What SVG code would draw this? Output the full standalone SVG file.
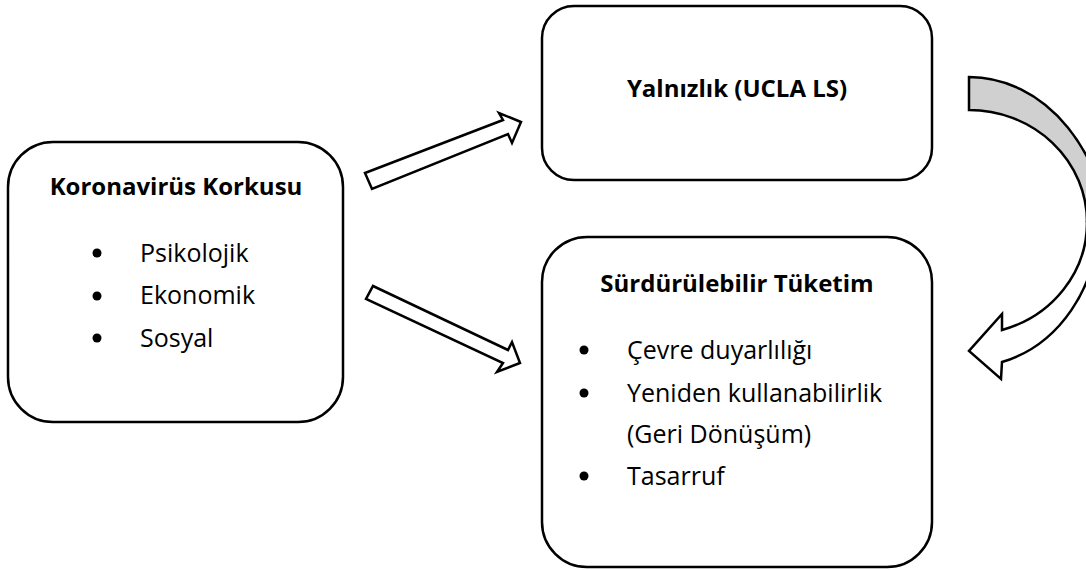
<svg xmlns="http://www.w3.org/2000/svg" width="1086" height="570" viewBox="0 0 1086 570">
<style>
.box{fill:#fff;stroke:#000;stroke-width:2.5}
.arr{fill:#fff;stroke:#000;stroke-width:2.5;stroke-linejoin:miter}
.title{font-family:"Open Sans","Liberation Sans",sans-serif;font-weight:bold;font-size:24px;fill:#000;text-anchor:middle}
.item{font-family:"Open Sans","Liberation Sans",sans-serif;font-size:25px;fill:#000}
.dot{fill:#000}
</style>
<rect width="1086" height="570" fill="#fff"/>
<g id="connectors">
<polygon class="arr" points="365,173 503,120 499,113 521,122 512,143 508,134 372,189"/>
<polygon class="arr" points="373,286 508,350 512,342 520,363 497,372 503,363 366,299"/>
<path d="M969,77 A140,173 0 0 1 1109,250 L1087,222 A118,112 0 0 0 969,110 Z" fill="#d0d0d0" stroke="#000" stroke-width="2.5"/>
<path class="arr" d="M1002,362 A129,145 0 0 0 1098,222 L1087,222 A118,112 0 0 1 1002,330 L1002,314 L969,351 L1001,379 Z"/>
</g>
<g id="node-korku">
<rect class="box" x="8" y="142" width="335" height="280" rx="45" ry="45"/>
<text class="title" x="176" y="195">Koronavirüs Korkusu</text>
<circle class="dot" cx="97" cy="253" r="4.5"/>
<text class="item" x="140" y="262">Psikolojik</text>
<circle class="dot" cx="97" cy="296" r="4.5"/>
<text class="item" x="140" y="304">Ekonomik</text>
<circle class="dot" cx="97" cy="338" r="4.5"/>
<text class="item" x="140" y="347">Sosyal</text>
</g>
<g id="node-yalnizlik">
<rect class="box" x="542" y="6" width="390" height="174" rx="32" ry="32"/>
<text class="title" x="737" y="97">Yalnızlık (UCLA LS)</text>
</g>
<g id="node-tuketim">
<rect class="box" x="542" y="237" width="390" height="330" rx="45" ry="45"/>
<text class="title" x="737" y="292">Sürdürülebilir Tüketim</text>
<circle class="dot" cx="584" cy="350" r="4.5"/>
<text class="item" x="627" y="359">Çevre duyarlılığı</text>
<circle class="dot" cx="584" cy="393" r="4.5"/>
<text class="item" x="627" y="402">Yeniden kullanabilirlik</text>
<text class="item" x="627" y="443">(Geri Dönüşüm)</text>
<circle class="dot" cx="584" cy="476" r="4.5"/>
<text class="item" x="627" y="485">Tasarruf</text>
</g>
</svg>
